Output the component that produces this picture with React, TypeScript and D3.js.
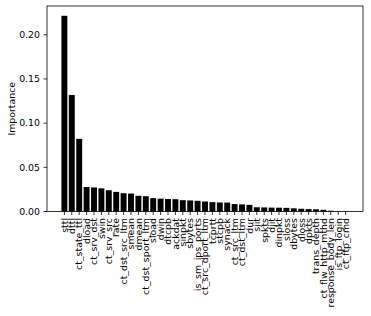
import React, { useEffect, useRef } from "react";
import * as d3 from "d3";

// feature importances, sorted descending
const FEATURES = [
  "sttl", "dttl", "ct_state_ttl", "dload", "ct_srv_dst", "swin", "ct_srv_src",
  "rate", "ct_dst_src_ltm", "smean", "dmean", "ct_dst_sport_ltm", "sload",
  "dwin", "dtcpb", "ackdat", "sinpkt", "sbytes", "is_sm_ips_ports",
  "ct_src_dport_ltm", "tcprtt", "stcpb", "synack", "ct_src_ltm", "ct_dst_ltm",
  "dur", "sjit", "spkts", "djit", "dinpkt", "sloss", "dbytes", "dloss", "dpkts",
  "trans_depth", "ct_flw_http_mthd", "response_body_len", "is_ftp_login",
  "ct_ftp_cmd",
];
const IMPORTANCE = [
  0.2215, 0.1318, 0.0822, 0.0277, 0.0272, 0.0262, 0.0241, 0.0222, 0.0207,
  0.0203, 0.0178, 0.0173, 0.0151, 0.0145, 0.0141, 0.0139, 0.0128, 0.0125,
  0.0121, 0.0113, 0.0106, 0.0102, 0.0101, 0.0084, 0.0080, 0.0075, 0.0048,
  0.0046, 0.0044, 0.0043, 0.0041, 0.0036, 0.0031, 0.0027, 0.0025, 0.0019,
  0.0009, 0.0002, 0.0001,
];
const Y_TICKS = [0, 0.05, 0.1, 0.15, 0.2];

export default function App() {
  const ref = useRef<SVGSVGElement>(null);

  useEffect(() => {
    const svg = d3.select(ref.current);
    svg.selectAll("*").remove();

    const left = 47, right = 363, top = 6, bottom = 211.5;
    const n = FEATURES.length;
    const font = "DejaVu Sans, sans-serif";
    const fs = 9.4;

    // matplotlib style margins
    const x = d3.scaleLinear().domain([-2.35, n - 1 + 2.35]).range([left, right]);
    const y = d3
      .scaleLinear()
      .domain([0, (d3.max(IMPORTANCE) as number) * 1.05])
      .range([bottom, top]);

    // bars
    svg
      .append("g")
      .selectAll("rect")
      .data(IMPORTANCE)
      .enter()
      .append("rect")
      .attr("x", (d, i) => x(i - 0.4))
      .attr("width", x(0.8) - x(0))
      .attr("y", (d) => y(d))
      .attr("height", (d) => bottom - y(d))
      .attr("fill", "#000");

    // spines
    svg
      .append("rect")
      .attr("x", left)
      .attr("y", top)
      .attr("width", right - left)
      .attr("height", bottom - top)
      .attr("fill", "none")
      .attr("stroke", "#000")
      .attr("stroke-width", 0.8);

    // y ticks
    const yg = svg.append("g");
    Y_TICKS.forEach((t) => {
      yg.append("line")
        .attr("x1", left - 3.5)
        .attr("x2", left)
        .attr("y1", y(t))
        .attr("y2", y(t))
        .attr("stroke", "#000")
        .attr("stroke-width", 0.8);
      yg.append("text")
        .attr("x", left - 7)
        .attr("y", y(t))
        .attr("dy", "0.35em")
        .attr("text-anchor", "end")
        .attr("font-family", font)
        .attr("font-size", fs)
        .text(t.toFixed(2));
    });

    svg
      .append("text")
      .attr("transform", `translate(12,${(top + bottom) / 2}) rotate(-90)`)
      .attr("text-anchor", "middle")
      .attr("dy", "0.35em")
      .attr("font-family", font)
      .attr("font-size", fs)
      .text("Importance");

    // x ticks + rotated labels
    const xg = svg.append("g");
    FEATURES.forEach((f, i) => {
      xg.append("line")
        .attr("x1", x(i))
        .attr("x2", x(i))
        .attr("y1", bottom)
        .attr("y2", bottom + 3.5)
        .attr("stroke", "#000")
        .attr("stroke-width", 0.8);
      xg.append("text")
        .attr("transform", `translate(${x(i)},${bottom + 6.5}) rotate(-90)`)
        .attr("text-anchor", "end")
        .attr("dy", "0.35em")
        .attr("font-family", font)
        .attr("font-size", fs)
        .text(f);
    });
  }, []);

  return (
    <svg
      ref={ref}
      width={371}
      height={316}
      style={{ position: "fixed", left: 0, top: 0, background: "#fff" }}
    ></svg>
  );
}
